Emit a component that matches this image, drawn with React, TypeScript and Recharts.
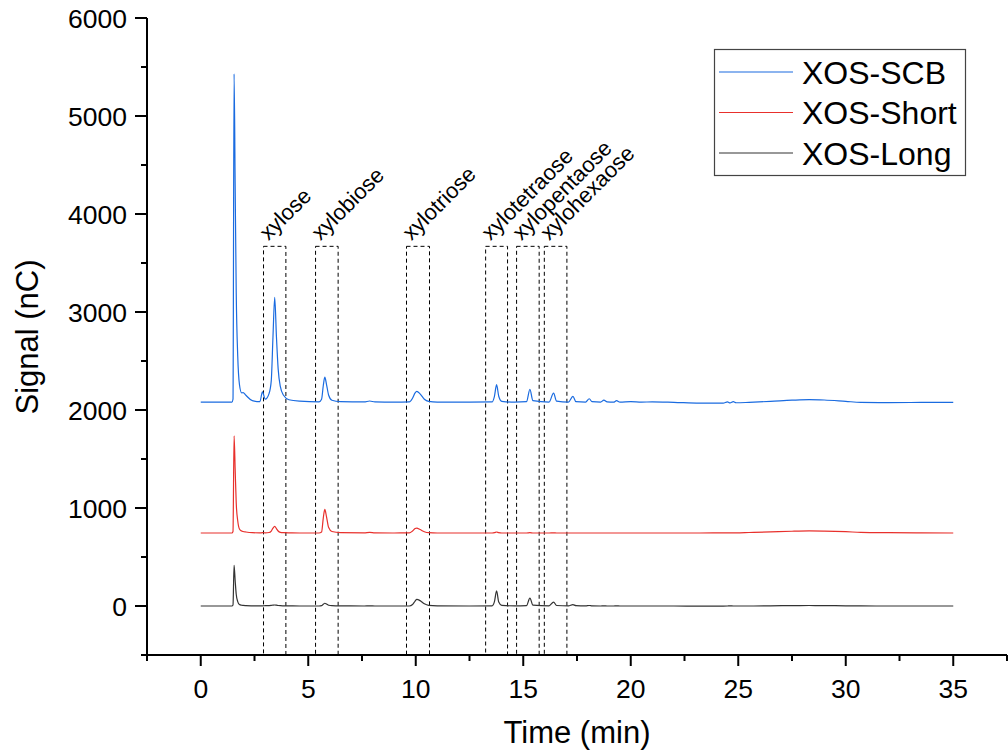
import { LineChart, Line, XAxis, YAxis, ReferenceArea } from "recharts";

// retention time (min)
const time = [
  0, 1.45, 1.5, 1.55, 1.6, 1.65, 1.72, 1.8, 1.9, 1.97,
  2.1, 2.4, 2.75, 2.87, 3.0, 3.18, 3.28, 3.36, 3.44, 3.52,
  3.6, 3.7, 3.85, 4.1, 4.6, 5.5, 5.62, 5.7, 5.77, 5.85,
  5.95, 6.1, 6.5, 7.6, 7.86, 8.1, 9.0, 9.7, 9.85, 9.97,
  10.05, 10.2, 10.4, 10.6, 11.0, 12.5, 13.55, 13.66, 13.76, 13.86,
  14.0, 14.6, 15.15, 15.31, 15.45, 16.2, 16.41, 16.55, 17.1, 17.31,
  17.45, 17.9, 18.07, 18.2, 18.6, 18.75, 18.9, 19.2, 19.34, 19.5,
  20.0, 20.5, 21.0, 22.0, 23.2, 24.3, 24.5, 24.62, 24.77, 24.9,
  25.5, 26.5, 27.5, 28.3, 29.0, 30.0, 30.7, 32.0, 33.5, 35.0,
];

const xosScb = [
  2080, 2080, 2110, 5430, 4300, 3200, 2550, 2260, 2175, 2178,
  2150, 2095, 2085, 2185, 2110, 2170, 2300, 2750, 3150, 2750,
  2420, 2240, 2150, 2105, 2090, 2083, 2110, 2250, 2335, 2260,
  2150, 2100, 2086, 2082, 2092, 2082, 2080, 2082, 2120, 2175,
  2190, 2165, 2110, 2088, 2080, 2080, 2082, 2140, 2258, 2140,
  2088, 2080, 2085, 2210, 2095, 2080, 2172, 2090, 2080, 2140,
  2085, 2080, 2115, 2085, 2080, 2100, 2082, 2080, 2095, 2080,
  2085, 2080, 2083, 2078, 2070, 2070, 2082, 2072, 2085, 2074,
  2078, 2088, 2100, 2106, 2102, 2088, 2078, 2076, 2077, 2078,
];

const xosShort = [
  745, 745, 760, 1735, 1400, 1050, 870, 785, 765, 760,
  755, 748, 746, 748, 747, 750, 765, 795, 812, 790,
  765, 752, 748, 746, 745, 745, 755, 900, 985, 910,
  800, 760, 748, 746, 752, 746, 745, 746, 765, 790,
  795, 780, 758, 748, 745, 745, 745, 748, 755, 748,
  745, 745, 745, 748, 745, 745, 746, 745, 745, 745,
  745, 745, 745, 745, 745, 745, 745, 745, 745, 745,
  745, 745, 745, 745, 745, 746, 747, 746, 747, 747,
  750, 756, 763, 766, 764, 758, 752, 748, 746, 745,
];

const xosLong = [
  0, 0, 10, 415, 260, 120, 45, 15, 8, 6,
  4, 2, 1, 2, 3, 4, 6, 9, 10, 8,
  5, 3, 2, 1, 0, 0, 4, 18, 28, 20,
  8, 3, 1, 0, 1, 0, 0, 0, 15, 50,
  68, 55, 22, 6, 1, 0, 2, 45, 155, 40,
  6, 1, 3, 80, 8, 1, 40, 5, 1, 15,
  3, 1, 5, 1, 0, 2, 0, 0, 1, 0,
  0, 0, 0, 0, -2, -1, 0, 1, 0, 0,
  0, 2, 4, 5, 4, 2, 1, 0, 0, 0,
];

// peak windows
const peakNames = ["xylose", "xylobiose", "xylotriose", "xylotetraose", "xylopentaose", "xylohexaose"];
const peakStart = [2.92, 5.34, 9.57, 13.25, 14.69, 15.98];
const peakEnd = [3.96, 6.39, 10.64, 14.27, 15.74, 17.03];
const peakTop = 3670;

const xTicks = [-2.5, 0, 2.5, 5, 7.5, 10, 12.5, 15, 17.5, 20, 22.5, 25, 27.5, 30, 32.5, 35, 37.5];
const yTicks = [-500, 0, 500, 1000, 1500, 2000, 2500, 3000, 3500, 4000, 4500, 5000, 5500, 6000];

const series = [
  { key: "scb", name: "XOS-SCB", color: "#1a6be0" },
  { key: "short", name: "XOS-Short", color: "#e8302c" },
  { key: "long", name: "XOS-Long", color: "#333333" },
];

const data = time.map((t, i) => ({
  t,
  scb: xosScb[i],
  short: xosShort[i],
  long: xosLong[i],
}));

const FONT = "Arial, 'Liberation Sans', sans-serif";

const XTick = ({ x, y, payload }: any) => {
  const major = payload.value % 5 === 0;
  return (
    <g>
      <line x1={x} x2={x} y1={y} y2={y + (major ? 11 : 6)} stroke="#000" strokeWidth={2} />
      {major && payload.value >= 0 && payload.value <= 35 && (
        <text x={x} y={y + 43} textAnchor="middle" fontSize={26.5} fontFamily={FONT} fill="#000">
          {payload.value}
        </text>
      )}
    </g>
  );
};

const YTick = ({ x, y, payload }: any) => {
  const major = payload.value % 1000 === 0;
  return (
    <g>
      <line x1={x - (major ? 12 : 6)} x2={x} y1={y} y2={y} stroke="#000" strokeWidth={2} />
      {major && (
        <text x={x - 20} y={y + 9.5} textAnchor="end" fontSize={26.5} fontFamily={FONT} fill="#000">
          {payload.value}
        </text>
      )}
    </g>
  );
};

const peakLabel = (name: string) => (props: any) => {
  const vb = props.viewBox;
  const px = vb.x + 5;
  const py = vb.y - 5;
  return (
    <text
      x={px}
      y={py}
      transform={`rotate(-45 ${px} ${py})`}
      fontSize={22}
      fontFamily={FONT}
      fill="#000"
    >
      {name}
    </text>
  );
};

export default function App() {
  return (
    <div style={{ position: "absolute", left: 0, top: 0, width: 1008, height: 751, background: "#fff" }}>
      <LineChart
        width={1008}
        height={751}
        data={data}
        margin={{ top: 18, right: 1, bottom: 36, left: 87 }}
      >
        <XAxis
          type="number"
          dataKey="t"
          domain={[-2.5, 37.5]}
          ticks={xTicks}
          interval={0}
          tickSize={0}
          tickMargin={0}
          tickLine={false}
          tick={<XTick />}
          height={60}
          axisLine={{ stroke: "#000", strokeWidth: 2 }}
        />
        <YAxis
          type="number"
          domain={[-500, 6000]}
          ticks={yTicks}
          interval={0}
          tickSize={0}
          tickMargin={0}
          tickLine={false}
          tick={<YTick />}
          width={60}
          axisLine={{ stroke: "#000", strokeWidth: 2 }}
        />
        {peakNames.map((name, i) => (
          <ReferenceArea
            key={name}
            x1={peakStart[i]}
            x2={peakEnd[i]}
            y1={-500}
            y2={peakTop}
            fill="none"
            fillOpacity={0}
            stroke="#000"
            strokeWidth={1}
            strokeDasharray="4 3"
            label={peakLabel(name)}
          />
        ))}
        {series.map((s) => (
          <Line
            key={s.key}
            type="monotone"
            dataKey={s.key}
            name={s.name}
            stroke={s.color}
            strokeWidth={1.2}
            dot={false}
            isAnimationActive={false}
          />
        ))}
      </LineChart>
      <svg
        width={1008}
        height={751}
        style={{ position: "absolute", left: 0, top: 0, pointerEvents: "none" }}
      >
        <text x={577} y={743} textAnchor="middle" fontSize={31} fontFamily={FONT} fill="#000">
          Time (min)
        </text>
        <text
          x={38}
          y={337}
          textAnchor="middle"
          fontSize={31}
          fontFamily={FONT}
          fill="#000"
          transform="rotate(-90 38 337)"
        >
          Signal (nC)
        </text>
        <rect x={714.5} y={49.5} width={251} height={126} fill="#fff" stroke="#444" strokeWidth={1.2} />
        {series.map((s, i) => (
          <g key={s.key}>
            <line x1={719} x2={793} y1={72 + i * 40.5} y2={72 + i * 40.5} stroke={s.color} strokeWidth={1.2} />
            <text x={802} y={83.5 + i * 40.5} fontSize={32} fontFamily={FONT} fill="#000">
              {s.name}
            </text>
          </g>
        ))}
      </svg>
    </div>
  );
}
